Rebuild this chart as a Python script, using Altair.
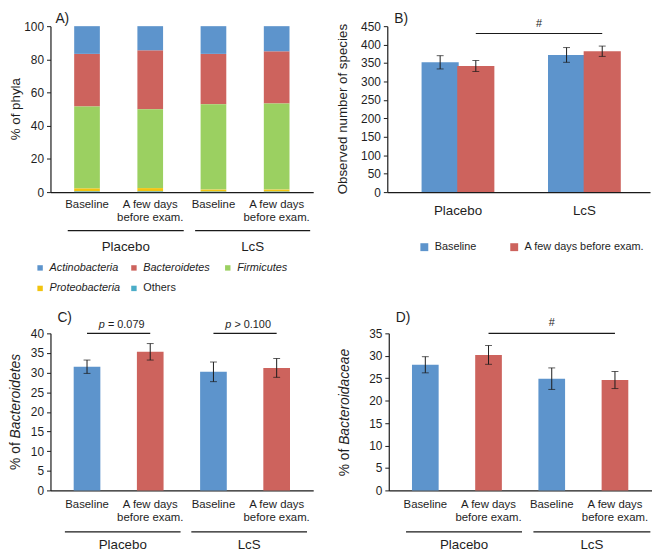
import altair as alt
import pandas as pd
import numpy as np

# ---------------- data ----------------
groups = ["Placebo", "LcS"]
timepoints = ["Baseline", "A few days before exam."]
tick_labels = ["Baseline", "A few days\nbefore exam."]

# Panel A: % of phyla (Placebo-Baseline, Placebo-exam, LcS-Baseline, LcS-exam)
phyla = ["Actinobacteria", "Bacteroidetes", "Firmicutes", "Proteobacteria", "Others"]
actinobacteria = [16.7, 14.7, 16.7, 15.3]
bacteroidetes = [31.7, 35.3, 30.3, 31.3]
firmicutes = [49.4, 47.6, 51.5, 51.9]
proteobacteria = [1.8, 2.0, 1.2, 1.2]
others = [0.4, 0.4, 0.3, 0.3]

# Panel B: observed number of species
species_mean = [352, 342, 372, 382]
species_err = [18, 15, 20, 14]

# Panel C: % of Bacteroidetes
bacteroidetes_mean = [31.5, 35.3, 30.2, 31.2]
bacteroidetes_err = [1.7, 2.1, 2.5, 2.4]
p_labels = ["= 0.079", "> 0.100"]

# Panel D: % of Bacteroidaceae
bacteroidaceae_mean = [28.0, 30.2, 24.9, 24.6]
bacteroidaceae_err = [1.8, 2.1, 2.4, 1.9]

# ---------------- styles ----------------
FONT = "Liberation Sans"
INK = "#1a1a1a"
TXT = "#1e1e1e"
BLUE = "#5D94CC"
RED = "#CD635D"
phyla_colors = ["#5D94CC", "#CD635D", "#9BD061", "#F2C40F", "#4BADC8"]
W = 266
H_TOP = 168
H_BOT = 159

# condition table
cond = pd.DataFrame({
    "group": [g for g in groups for _ in timepoints],
    "time": timepoints * len(groups),
    "label": tick_labels * len(groups),
})
cond["idx"] = np.arange(len(cond))
cond["pos"] = cond["idx"] + 0.5


def x_axis():
    return alt.Axis(ticks=False, labels=False, grid=False, title=None,
                    domainColor=INK, domainWidth=1.2)


def y_axis(values):
    return alt.Axis(values=values, grid=False, title=None, tickSize=4,
                    labelPadding=3, labelFontSize=12, labelColor=TXT,
                    domainColor=INK, tickColor=INK, domainWidth=1.2,
                    tickWidth=1)


class Frame:
    """shared scales + axes of one panel"""
    def __init__(self, xdom, ydom, yvalues):
        self.xs = alt.Scale(domain=xdom, nice=False, zero=False)
        self.ys = alt.Scale(domain=ydom, nice=False)
        self.xa = x_axis()
        self.ya = y_axis(yvalues)

    def X(self, f):
        return alt.X(f, scale=self.xs, axis=self.xa)

    def Y(self, f, **kw):
        return alt.Y(f, scale=self.ys, axis=self.ya, **kw)


def text_layer(text, x, y, size, **kw):
    return alt.Chart(pd.DataFrame({"t": [text]})).mark_text(
        fontSize=size, color=TXT, font=FONT, **kw
    ).encode(text="t:N", x=alt.value(x), y=alt.value(y))


def brackets(fr, h, spans, line_dy, label_dy):
    d = pd.DataFrame({"group": groups,
                      "x0": [s[0] for s in spans],
                      "x1": [s[1] for s in spans]})
    d["xm"] = (d["x0"] + d["x1"]) / 2
    lines = alt.Chart(d).mark_rule(color=INK, strokeWidth=1.1).encode(
        x=fr.X("x0:Q"), x2="x1:Q", y=alt.value(h + line_dy))
    labels = alt.Chart(d).mark_text(fontSize=13.5, color=TXT, font=FONT,
                                    baseline="middle").encode(
        x=fr.X("xm:Q"), y=alt.value(h + label_dy), text="group:N")
    return lines + labels


def cat_labels(fr, h, dy):
    return alt.Chart(cond).mark_text(
        baseline="top", lineBreak="\n", lineHeight=13, fontSize=11.5,
        color=TXT, font=FONT
    ).encode(x=fr.X("pos:Q"), y=alt.value(h + dy), text="label:N")


def errorbars(df, fr):
    base = alt.Chart(df)
    rule = base.mark_rule(color=INK, strokeWidth=1).encode(
        x=fr.X("pos:Q"), y=fr.Y("lo:Q"), y2="hi:Q")
    lo = base.mark_tick(orient="horizontal", size=7, thickness=1, color=INK).encode(
        x=fr.X("pos:Q"), y=fr.Y("lo:Q"))
    hi = base.mark_tick(orient="horizontal", size=7, thickness=1, color=INK).encode(
        x=fr.X("pos:Q"), y=fr.Y("hi:Q"))
    return rule + lo + hi


def split_title(h, normal, italic, size, x):
    # "% of " upright followed by an italic taxon name, rotated
    w_norm = {"% of ": 2.279}[normal] * size
    italic_em = {"Bacteroidetes": 6.114, "Bacteroidaceae": 7.048}[italic]
    total = w_norm + italic_em * size
    bottom = h / 2 + total / 2
    t1 = text_layer(normal.strip(), x, bottom, size, angle=270, align="left",
                    baseline="middle")
    t2 = text_layer(italic, x, bottom - w_norm, size, angle=270, align="left",
                    baseline="middle", fontStyle="italic")
    return t1 + t2


# ---------------- Panel A ----------------
series_a = {"Actinobacteria": actinobacteria, "Bacteroidetes": bacteroidetes,
            "Firmicutes": firmicutes, "Proteobacteria": proteobacteria,
            "Others": others}
rows = []
for k, name in enumerate(phyla):
    for i in range(len(cond)):
        rows.append({"phylum": name, "pos": cond["pos"][i],
                     "value": series_a[name][i], "rank": len(phyla) - 1 - k})
dfA = pd.DataFrame(rows)

frA = Frame([0, 4], [0, 100], list(range(0, 101, 20)))
legendA = alt.Legend(
    orient="none", legendX=-16, legendY=239, columns=3, direction="horizontal",
    gridAlign="all", columnPadding=8, rowPadding=9, symbolType="square",
    symbolSize=30, symbolStrokeWidth=0, labelFontSize=11, labelOffset=4,
    labelColor=TXT, labelFont=FONT, title=None, padding=0,
    labelFontStyle=alt.ExprRef("datum.label === 'Others' ? 'normal' : 'italic'"),
)
barsA = alt.Chart(dfA).mark_bar(size=26).encode(
    x=frA.X("pos:Q"),
    y=frA.Y("value:Q", stack="zero"),
    color=alt.Color("phylum:N", scale=alt.Scale(domain=phyla, range=phyla_colors),
                    legend=legendA),
    order=alt.Order("rank:Q", sort="ascending"),
)
panelA = alt.layer(
    barsA,
    cat_labels(frA, H_TOP, 7),
    brackets(frA, H_TOP, [(0.195, 2.03), (2.21, 4.03)], 39, 56),
    text_layer("% of phyla", -35, H_TOP / 2, 13.5, angle=270, align="center",
               baseline="middle"),
    text_layer("A)", 5, -7, 14, align="left", baseline="middle"),
).properties(width=W, height=H_TOP)

# ---------------- Panel B ----------------
dfB = cond.copy()
dfB["value"] = species_mean
dfB["lo"] = dfB["value"] - np.array(species_err)
dfB["hi"] = dfB["value"] + np.array(species_err)
dfB["gi"] = dfB["idx"] // 2
dfB["pos"] = dfB["gi"] + 0.52 + np.where(dfB["time"] == timepoints[0], -0.141, 0.141)

frB = Frame([0, 2], [0, 450], list(range(0, 451, 50)))
legendB = alt.Legend(
    orient="none", legendX=32, legendY=218, direction="horizontal",
    symbolType="square", symbolSize=64, symbolStrokeWidth=0, labelFontSize=11,
    labelOffset=5, columnPadding=32, labelColor=TXT, labelFont=FONT,
    title=None, padding=0,
)
barsB = alt.Chart(dfB).mark_bar(size=37.6).encode(
    x=frB.X("pos:Q"),
    y=frB.Y("value:Q"),
    color=alt.Color("time:N", scale=alt.Scale(domain=timepoints, range=[BLUE, RED]),
                    legend=legendB),
)
exam = dfB[dfB["time"] == timepoints[1]]["pos"].tolist()
sigB = pd.DataFrame({"x0": [exam[0]], "x1": [exam[1]], "y": [430], "t": ["#"]})
sigB["xm"] = (sigB["x0"] + sigB["x1"]) / 2
sigB_rule = alt.Chart(sigB).mark_rule(color=INK, strokeWidth=1.1).encode(
    x=frB.X("x0:Q"), x2="x1:Q", y=frB.Y("y:Q"))
sigB_text = alt.Chart(sigB).mark_text(fontSize=11, color=TXT, font=FONT, dy=-10).encode(
    x=frB.X("xm:Q"), y=frB.Y("y:Q"), text="t:N")
grpB = pd.DataFrame({"group": groups, "xm": [g + 0.52 for g in range(len(groups))]})
grpB_text = alt.Chart(grpB).mark_text(fontSize=13.5, color=TXT, font=FONT,
                                      baseline="middle").encode(
    x=frB.X("xm:Q"), y=alt.value(H_TOP + 19), text="group:N")
panelB = alt.layer(
    barsB, errorbars(dfB, frB), sigB_rule, sigB_text, grpB_text,
    text_layer("Observed number of species", -44.5, H_TOP / 2, 13.5, angle=270,
               align="center", baseline="middle"),
    text_layer("B)", 7, -7, 14, align="left", baseline="middle"),
).properties(width=W, height=H_TOP)


# ---------------- Panels C & D ----------------
def simple_panel(mean, err, ymax, ystep, letter, taxon, spans, extra, title_x):
    d = cond.copy()
    d["value"] = mean
    d["lo"] = d["value"] - np.array(err)
    d["hi"] = d["value"] + np.array(err)
    fr = Frame([0, 4], [0, ymax], list(range(0, ymax + 1, ystep)))
    bars = alt.Chart(d).mark_bar(size=27).encode(
        x=fr.X("pos:Q"),
        y=fr.Y("value:Q"),
        color=alt.Color("time:N", scale=alt.Scale(domain=timepoints, range=[BLUE, RED]),
                        legend=None),
    )
    layers = [bars, errorbars(d, fr), cat_labels(fr, H_BOT, 9),
              brackets(fr, H_BOT, spans, 42, 55),
              split_title(H_BOT, "% of ", taxon, 14, title_x),
              text_layer(letter, 7, -16, 14, align="left", baseline="middle")]
    layers += extra(d, fr, ymax)
    return alt.layer(*layers).properties(width=W, height=H_BOT)


def extra_c(d, fr, ymax):
    base = d[d["time"] == timepoints[0]]["pos"].tolist()
    exam_ = d[d["time"] == timepoints[1]]["pos"].tolist()
    s = pd.DataFrame({"x0": base, "x1": exam_, "y": [ymax, ymax], "t": p_labels})
    s["xm"] = (s["x0"] + s["x1"]) / 2
    rule = alt.Chart(s).mark_rule(color=INK, strokeWidth=1.1).encode(
        x=fr.X("x0:Q"), x2="x1:Q", y=fr.Y("y:Q"))
    p_it = alt.Chart(s).mark_text(fontSize=11, color=TXT, font=FONT, fontStyle="italic",
                                  align="left", dx=-20, dy=-8.5).encode(
        x=fr.X("xm:Q"), y=fr.Y("y:Q"), text=alt.value("p"))
    p_rest = alt.Chart(s).mark_text(fontSize=11, color=TXT, font=FONT,
                                    align="left", dx=-10.8, dy=-8.5).encode(
        x=fr.X("xm:Q"), y=fr.Y("y:Q"), text="t:N")
    return [rule, p_it, p_rest]


def extra_d(d, fr, ymax):
    exam_ = d[d["time"] == timepoints[1]]["pos"].tolist()
    s = pd.DataFrame({"x0": [exam_[0]], "x1": [exam_[1]], "y": [ymax], "t": ["#"]})
    s["xm"] = (s["x0"] + s["x1"]) / 2
    rule = alt.Chart(s).mark_rule(color=INK, strokeWidth=1.1).encode(
        x=fr.X("x0:Q"), x2="x1:Q", y=fr.Y("y:Q"))
    txt = alt.Chart(s).mark_text(fontSize=11, color=TXT, font=FONT, dy=-10).encode(
        x=fr.X("xm:Q"), y=fr.Y("y:Q"), text="t:N")
    return [rule, txt]


panelC = simple_panel(bacteroidetes_mean, bacteroidetes_err, 40, 5, "C)", "Bacteroidetes",
                      [(0.15, 1.98), (2.15, 3.98)], extra_c, -35)
panelD = simple_panel(bacteroidaceae_mean, bacteroidaceae_err, 35, 5, "D)", "Bacteroidaceae",
                      [(0.195, 2.03), (2.21, 4.06)], extra_d, -44.5)

top = alt.hconcat(panelA, panelB, spacing=21).resolve_scale(
    color="independent").resolve_legend(color="independent")
bottom = alt.hconcat(panelC, panelD, spacing=22.5).resolve_scale(
    color="independent").resolve_legend(color="independent")

chart = alt.vconcat(top, bottom, spacing=15).resolve_scale(
    color="independent").resolve_legend(color="independent").properties(
    padding={"left": 0, "top": 0, "right": 0, "bottom": 0}
).configure_view(stroke="transparent").configure_axis(
    labelFont=FONT
).configure_text(font=FONT).configure_legend(labelFont=FONT)

chart.save("out.html", embed_options={"renderer": "svg", "actions": False})
